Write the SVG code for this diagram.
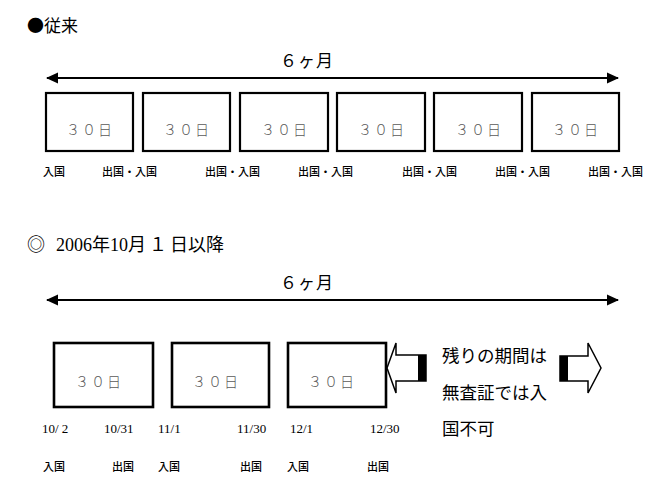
<svg xmlns="http://www.w3.org/2000/svg" width="670" height="495" viewBox="0 0 670 495">
<defs>
<marker id="ah" markerUnits="userSpaceOnUse" markerWidth="12" markerHeight="12" refX="11" refY="6" orient="auto-start-reverse" viewBox="0 0 12 12">
<path d="M0,0.5 L12,6 L0,11.5 Z" fill="#000"/>
</marker>
</defs>
<style>
.bx{fill:#fff;stroke:#000;stroke-width:2.2}
.bt{font-family:"Noto Sans CJK JP",sans-serif;font-size:14px;font-weight:300;fill:#5a5a5a;text-anchor:middle;letter-spacing:2px}
.lb{font-family:"Noto Sans CJK JP",sans-serif;font-size:11px;font-weight:500;fill:#000}
.dt{font-family:"Liberation Serif",serif;font-size:13px;fill:#000}
.hd{font-family:"Noto Sans CJK JP",sans-serif;font-size:17px;fill:#000}
.ln{stroke:#000;stroke-width:2.2;fill:none}
.ba{fill:#fff;stroke:#000;stroke-width:1.5}
</style>
<rect width="670" height="495" fill="#fff"/>

<text id="title1" class="hd" x="27" y="32">●従来</text>
<text id="title2" class="hd" x="27" y="251" style="font-size:18px"><tspan>◎</tspan><tspan x="56" font-family="Liberation Serif, Noto Sans CJK JP, serif">2006</tspan><tspan>年</tspan><tspan font-family="Liberation Serif, serif">10</tspan><tspan>月</tspan><tspan x="149">１</tspan><tspan x="170">日以降</tspan></text>

<g id="connectors">
<line class="ln" x1="47" y1="78" x2="618" y2="78" marker-start="url(#ah)" marker-end="url(#ah)"/>
<line class="ln" x1="47" y1="300" x2="618" y2="300" marker-start="url(#ah)" marker-end="url(#ah)"/>
</g>
<text id="m1" class="hd" x="307" y="67" text-anchor="middle" letter-spacing="1">６ヶ月</text>
<text id="m2" class="hd" x="307" y="289" text-anchor="middle" letter-spacing="1">６ヶ月</text>

<g id="top-boxes">
<g id="t1"><rect class="bx" x="46" y="93" width="87" height="58"/><text class="bt" x="90" y="135">３０日</text></g>
<g id="t2"><rect class="bx" x="143" y="93" width="87" height="58"/><text class="bt" x="187" y="135">３０日</text></g>
<g id="t3"><rect class="bx" x="240" y="93" width="88" height="58"/><text class="bt" x="285" y="135">３０日</text></g>
<g id="t4"><rect class="bx" x="337" y="93" width="88" height="58"/><text class="bt" x="382" y="135">３０日</text></g>
<g id="t5"><rect class="bx" x="434" y="93" width="88" height="58"/><text class="bt" x="479" y="135">３０日</text></g>
<g id="t6"><rect class="bx" x="532" y="93" width="87" height="58"/><text class="bt" x="576" y="135">３０日</text></g>
</g>
<g id="top-labels">
<text class="lb" x="43" y="176">入国</text>
<text class="lb" x="102" y="176">出国・入国</text>
<text class="lb" x="205" y="176">出国・入国</text>
<text class="lb" x="298" y="176">出国・入国</text>
<text class="lb" x="402" y="176">出国・入国</text>
<text class="lb" x="495" y="176">出国・入国</text>
<text class="lb" x="588" y="176">出国・入国</text>
</g>

<g id="bottom-boxes">
<g id="b1"><rect class="bx" x="54" y="343" width="99" height="64" style="stroke-width:2.6"/><text class="bt" x="99" y="387">３０日</text></g>
<g id="b2"><rect class="bx" x="172" y="343" width="97" height="64" style="stroke-width:2.6"/><text class="bt" x="216" y="387">３０日</text></g>
<g id="b3"><rect class="bx" x="288" y="343" width="98" height="64" style="stroke-width:2.6"/><text class="bt" x="332" y="387">３０日</text></g>
</g>
<g id="dates">
<text class="dt" x="42" y="433">10/ 2</text>
<text class="dt" x="104" y="433">10/31</text>
<text class="dt" x="158" y="433">11/1</text>
<text class="dt" x="237" y="433">11/30</text>
<text class="dt" x="290" y="433">12/1</text>
<text class="dt" x="370" y="433">12/30</text>
</g>
<g id="bottom-labels">
<text class="lb" x="43" y="471">入国</text>
<text class="lb" x="112" y="471">出国</text>
<text class="lb" x="158" y="471">入国</text>
<text class="lb" x="240" y="471">出国</text>
<text class="lb" x="287" y="471">入国</text>
<text class="lb" x="367" y="471">出国</text>
</g>

<g id="arrow-left">
<polygon class="ba" points="387,368 396,343 396,355 426,355 426,381 396,381 396,393"/>
<rect x="418" y="355" width="8" height="26" fill="#000"/>
</g>
<g id="arrow-right">
<polygon class="ba" points="560,356 588,356 588,343 601,368 588,393 588,381 560,381"/>
<rect x="560" y="356" width="8" height="25" fill="#000"/>
</g>
<g id="note">
<text class="hd" x="442" y="362" style="font-size:17.5px">残りの期間は</text>
<text class="hd" x="442" y="399" style="font-size:17.5px">無査証では入</text>
<text class="hd" x="442" y="435" style="font-size:17.5px">国不可</text>
</g>
</svg>
